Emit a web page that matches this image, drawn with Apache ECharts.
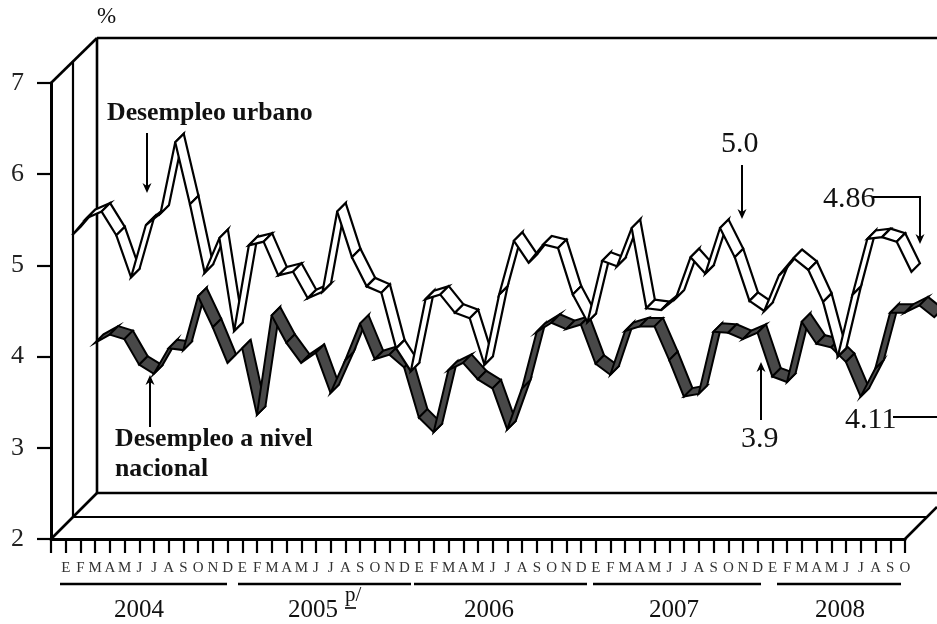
<!DOCTYPE html>
<html><head><meta charset="utf-8">
<script src="https://cdn.jsdelivr.net/npm/echarts@6/dist/echarts.min.js"></script>
<style>html,body{margin:0;padding:0;background:#fff}#c{width:937px;height:624px}</style>
</head><body><div id="c"></div>
<script>
const monthLetters = ['E','F','M','A','M','J','J','A','S','O','N','D'];
const categories = [
  ...monthLetters, ...monthLetters, ...monthLetters, ...monthLetters,
  'E','F','M','A','M','J','J','A','S','O'
];
const urbano = [5.17,5.36,5.43,5.17,4.71,5.28,5.41,6.19,5.51,4.76,5.14,4.12,
  5.06,5.10,4.73,4.77,4.48,4.55,5.43,4.93,4.61,4.54,3.93,3.68,
  4.47,4.52,4.32,4.26,3.75,4.52,5.11,4.87,5.07,5.03,4.52,4.22,
  4.89,4.83,5.25,4.37,4.35,4.48,4.93,4.75,5.25,4.93,4.45,4.34,
  4.73,4.92,4.79,4.44,3.84,4.52,5.13,5.15,5.10,4.77];
const nacional = [3.75,3.84,3.79,3.51,3.41,3.69,3.67,4.26,3.92,3.53,3.69,2.96,
  4.05,3.75,3.53,3.64,3.20,3.56,3.96,3.57,3.62,3.48,2.93,2.77,
  3.45,3.53,3.35,3.25,2.80,3.25,3.87,3.97,3.90,3.95,3.52,3.40,
  3.88,3.93,3.93,3.56,3.16,3.19,3.87,3.86,3.79,3.86,3.38,3.32,
  3.98,3.74,3.70,3.54,3.16,3.47,4.08,4.08,4.16,4.03];
const yTicks = {min:2,max:7,interval:1};
const years = ['2004','2005','2006','2007','2008'];

const serif = '"Liberation Serif","Times New Roman",serif';
const chart = echarts.init(document.getElementById('c'), null, {renderer:'canvas'});

function ribbon(values, dx, dy, fill, lineW){
  const ribbonDepth = 8.5;
  return {
    type:'custom', coordinateSystem:'cartesian2d', silent:true, clip:false,
    data: values.map((v,i)=>[i,v]),
    encode:{x:0,y:1},
    animation:false,
    renderItem(params, api){
      const i = api.value(0);
      if (i >= values.length-1) return {type:'group',children:[]};
      const a = api.coord([i, values[i]]);
      const b = api.coord([i+1, values[i+1]]);
      const f = p => [p[0]+dx, p[1]-dy];
      const k = p => [p[0]+dx+ribbonDepth, p[1]-dy-ribbonDepth];
      return {type:'polygon',
        shape:{points:[f(a),f(b),k(b),k(a)]},
        style:{fill:fill, stroke:'#000', lineWidth:lineW, lineJoin:'miter'}};
    }
  };
}

const line=(x1,y1,x2,y2,w,z)=>({type:'line',silent:true,z:z||0,
  shape:{x1,y1,x2,y2},style:{stroke:'#000',lineWidth:w||2.6}});
const poly=(points,z)=>({type:'polygon',silent:true,z:z||0,shape:{points},style:{fill:'#000'}});
const arrowDown=(x,y1,y2)=>[line(x,y1,x,y2-6,2,10),poly([[x-4.5,y2-10],[x,y2-7],[x+4.5,y2-10],[x,y2]],10)];
const arrowUp=(x,y1,y2)=>[line(x,y1,x,y2+6,2,10),poly([[x-4.5,y2+10],[x,y2+7],[x+4.5,y2+10],[x,y2]],10)];
const text=(x,y,t,size,opt)=>({type:'text',silent:true,z:10,x,y,
  style:Object.assign({text:t,fontFamily:serif,fontSize:size,fill:'#111',textAlign:'left',textVerticalAlign:'middle'},opt||{})});

const frame=[
  line(73,61,73,517,2.2),line(97,38,97,493),
  line(97,38,937,38),line(97,493,937,493),line(73,517,927,517,2.2),
  line(51,83,97,38),line(51,539,97,493),line(905,539,937,507)
];
const yearRules=[[60,227],[238,411],[414,587],[593,761],[777,901]];
const yearX=[139,313,489,674,840];
const bottom=[
  ...yearRules.map(r=>line(r[0],584,r[1],584,2.4,10)),
  ...years.map((y,i)=>text(yearX[i],610,y,25,{textAlign:'center'})),
  text(345,595,'p/',21,{textAlign:'left'}),
  line(345,608,356,608,1.6,10)
];
const notes=[
  text(97,17,'%',23),
  text(107,113,'Desempleo urbano',25.8,{fontWeight:'bold'}),
  text(115,439,'Desempleo a nivel',25.8,{fontWeight:'bold'}),
  text(115,469,'nacional',25.8,{fontWeight:'bold'}),
  ...arrowDown(147,133,193),
  ...arrowUp(150,427,375),
  text(721,144,'5.0',30),
  ...arrowDown(742,165,219),
  text(823,199,'4.86',30),
  line(873,197,921,197,2,10),
  ...arrowDown(920,197,244),
  text(741,439,'3.9',30),
  ...arrowUp(761,420,362),
  text(845,420,'4.11',30),
  line(893,417,937,417,2,10)
];

chart.setOption({
  animation:false,
  grid:{left:51,top:83,width:854,height:456,containLabel:false},
  xAxis:{type:'category',data:categories,boundaryGap:true,
    axisLine:{onZero:false,lineStyle:{color:'#000',width:3}},
    axisTick:{show:true,length:14,interval:0,lineStyle:{color:'#000',width:2.2}},
    axisLabel:{interval:0,margin:22,padding:[0,0,0,14.72],fontFamily:serif,fontSize:15,color:'#333',hideOverlap:false},
    splitLine:{show:false}},
  yAxis:{type:'value',min:yTicks.min,max:yTicks.max,interval:yTicks.interval,
    axisLine:{show:true,lineStyle:{color:'#000',width:3}},
    axisTick:{show:true,length:14,lineStyle:{color:'#000',width:2.2}},
    axisLabel:{margin:27,padding:[3,0,0,0],fontFamily:serif,fontSize:26,color:'#222'},
    splitLine:{show:false}},
  graphic:{elements:[...frame,...bottom,...notes]},
  series:[ribbon(nacional,36.6,36.6,'#484848',2), ribbon(urbano,13.8,14.6,'#fff',2.2)]
});
</script></body></html>
